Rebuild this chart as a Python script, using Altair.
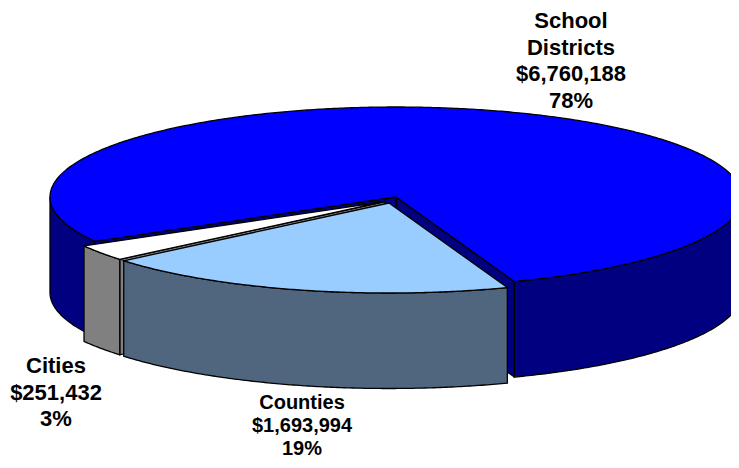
import numpy as np
import pandas as pd
import altair as alt

# ---- data ----
categories = ["School Districts", "Counties", "Cities"]
values = [6760188, 1693994, 251432]
percents = ["78%", "19%", "3%"]
amounts = ["$6,760,188", "$1,693,994", "$251,432"]
label_lines = [["School", "Districts"], ["Counties"], ["Cities"]]

# ---- projection of the 3-D pie, in page pixels ----
PW, PH = 723, 452
RX, RY, DEPTH = 346, 90, 95.5
START = 20.0                                   # angle from front, going clockwise
centers = {"School Districts": (396, 197), "Counties": (389, 203), "Cities": (385, 201.5)}
top_fill = {"School Districts": "#0000FF", "Counties": "#99CCFF", "Cities": "#FFFFFF"}
wall_fill = {"School Districts": "#000080", "Counties": "#50667F", "Cities": "#808080"}
label_pos = {"School Districts": (571, 21), "Counties": (302, 402.5), "Cities": (56, 366)}
LINE_H = {"School Districts": 26.6, "Counties": 23, "Cities": 26.6}
FONT = {"School Districts": 22, "Counties": 20, "Cities": 22}

total = sum(values)
spans = [v / total * 360 for v in values]
a_counties = (START, START - spans[1])
a_cities = (a_counties[1], a_counties[1] - spans[2])
a_school = (a_cities[1], a_cities[1] - spans[0])


def rim(c, t0, t1, dz=0.0, n=None):
    n = n or max(2, int(abs(t1 - t0)) * 2 + 1)
    t = np.radians(np.linspace(t0, t1, n))
    return list(zip(c[0] + RX * np.sin(t), c[1] + RY * np.cos(t) + dz))


def wedge_top(c, t0, t1):
    return [c] + rim(c, t0, t1) + [c]


def outer_wall(c, t0, t1):
    top = rim(c, t0, t1)
    bot = rim(c, t1, t0, DEPTH)
    return top + bot + [top[0]]


def cut_face(c, t):
    e = rim(c, t, t, n=2)[0]
    return [c, e, (e[0], e[1] + DEPTH), (c[0], c[1] + DEPTH), c]


S, Co, Ci = categories
cS, cCo, cCi = centers[S], centers[Co], centers[Ci]
polys = [
    (outer_wall(cS, a_school[0], -90), wall_fill[S]),
    (outer_wall(cS, 90, START), wall_fill[S]),
    (cut_face(cS, START), wall_fill[S]),
    (cut_face(cS, a_cities[1]), wall_fill[S]),
    (wedge_top(cS, a_school[0], a_school[0] - spans[0]), top_fill[S]),
    (cut_face(cCi, a_cities[0]), wall_fill[Ci]),
    (outer_wall(cCi, a_cities[0], a_cities[1]), wall_fill[Ci]),
    (wedge_top(cCi, a_cities[0], a_cities[1]), top_fill[Ci]),
    (outer_wall(cCo, a_counties[0], a_counties[1]), wall_fill[Co]),
    (wedge_top(cCo, a_counties[0], a_counties[1]), top_fill[Co]),
]

x_scale = alt.Scale(domain=[8, 8 + PW], range=[0, PW])
y_scale = alt.Scale(domain=[8, 8 + PH], range=[0, PH])

layers = []
for pts, fill in polys:
    df = pd.DataFrame(pts, columns=["x", "y"]).assign(i=lambda d: range(len(d)))
    layers.append(
        alt.Chart(df).mark_line(fill=fill, stroke="black", strokeWidth=1.3, strokeJoin="miter",
                                clip=True, interpolate="linear").encode(
            x=alt.X("x:Q", scale=x_scale, axis=None),
            y=alt.Y("y:Q", scale=y_scale, axis=None),
            order="i:O",
        )
    )

for cat, pct, amt, lines in zip(categories, percents, amounts, label_lines):
    lx, ly = label_pos[cat]
    rows = [{"x": lx, "y": ly + k * LINE_H[cat], "t": s} for k, s in enumerate(lines + [amt, pct])]
    layers.append(
        alt.Chart(pd.DataFrame(rows)).mark_text(
            font="Liberation Sans", fontWeight="bold", fontSize=FONT[cat], color="black",
            align="center", baseline="middle"
        ).encode(
            x=alt.X("x:Q", scale=x_scale, axis=None),
            y=alt.Y("y:Q", scale=y_scale, axis=None),
            text="t:N",
        )
    )

chart = alt.layer(*layers).properties(
    width=PW, height=PH, padding=0, autosize=alt.AutoSizeParams(type="none")
).configure_view(stroke=None)

chart.save("out.html", embed_options={"renderer": "svg", "actions": False})
